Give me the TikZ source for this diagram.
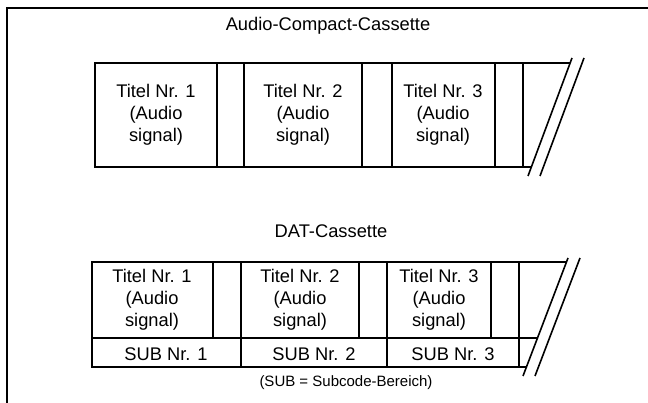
\documentclass[tikz,border=0pt]{standalone}
\usepackage{fontspec}
\setmainfont{Liberation Sans}
\usetikzlibrary{positioning}

\begin{document}
\begin{tikzpicture}[
x=1pt,y=-1pt,
tape/.style={line width=1.9pt},
cut/.style={line width=1.6pt},
txt/.style={align=center,inner sep=0pt,font=\fontsize{18.3}{21.8}\selectfont},
note/.style={inner sep=0pt,font=\fontsize{15}{18}\selectfont}
]
\useasboundingbox (0,0) rectangle (648,403);
% frame
\draw[line width=1.1pt] (648,8) -- (7,8) -- (7,403);

% Audio-Compact-Cassette
\node[txt] (cc) at (328,26) {Audio-Compact-Cassette};
\draw[tape] (570,63) -- (95,63) -- (95,167) -- (531,167);
\foreach \x in {217,244,362,392,495,523}
  \draw[tape] (\x,63) -- (\x,167);
\draw[cut] (572,58) -- (528,176);
\draw[cut] (584,58) -- (540,176);
\node[txt] (cc1) at (156,115) {Titel Nr. 1\\(Audio\\signal)};
\node[txt] (cc2) at (303,115) {Titel Nr. 2\\(Audio\\signal)};
\node[txt] (cc3) at (443,115) {Titel Nr. 3\\(Audio\\signal)};

% DAT-Cassette
\node[txt] (dat) at (331,231) {DAT-Cassette};
\draw[tape] (566,262) -- (92,262) -- (92,367) -- (526,367);
\draw[line width=1.5pt] (92,338) -- (537,338);
\foreach \x in {213,359,491}
  \draw[tape] (\x,262) -- (\x,338);
\foreach \x in {241,387,519}
  \draw[tape] (\x,262) -- (\x,367);
\draw[cut] (568,258) -- (523,376);
\draw[cut] (580,258) -- (535,376);
\node[txt] (dat1) at (152,300) {Titel Nr. 1\\(Audio\\signal)};
\node[txt] (dat2) at (300,300) {Titel Nr. 2\\(Audio\\signal)};
\node[txt] (dat3) at (439,300) {Titel Nr. 3\\(Audio\\signal)};
\node[txt] (sub1) at (166,354) {SUB Nr. 1};
\node[txt] (sub2) at (314,354) {SUB Nr. 2};
\node[txt] (sub3) at (453,354) {SUB Nr. 3};
\node[note] (key) at (346,383) {(SUB = Subcode-Bereich)};
\end{tikzpicture}
\end{document}
